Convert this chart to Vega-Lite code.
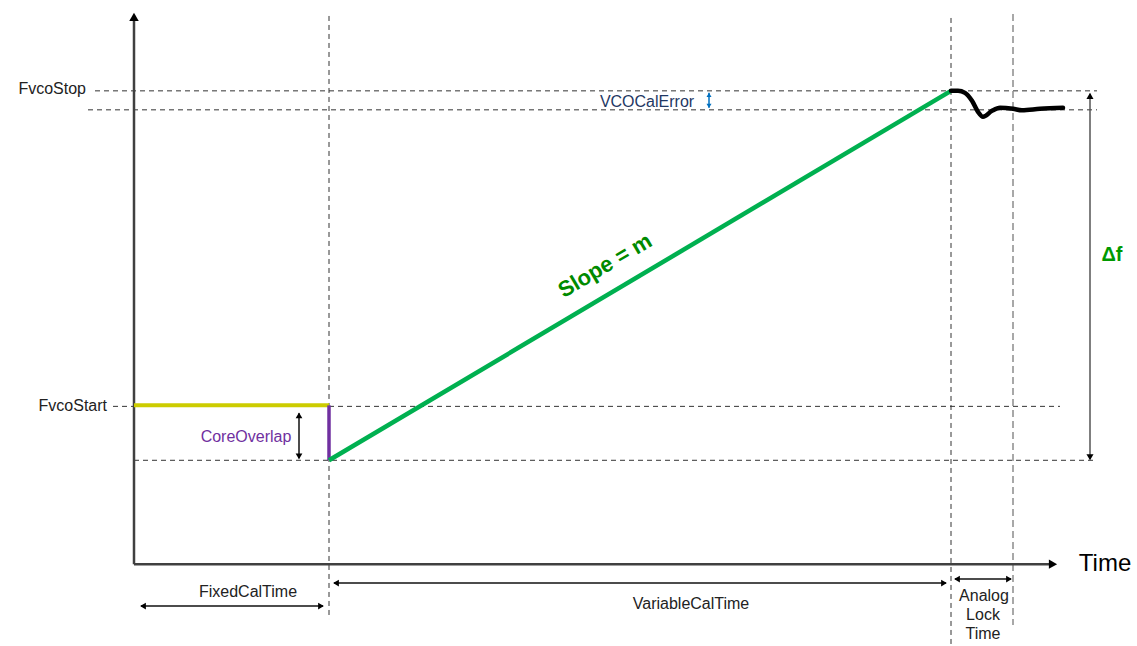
{
  "$schema": "https://vega.github.io/schema/vega-lite/v6.json",
  "width": 1137,
  "height": 646,
  "padding": 0,
  "autosize": {"type": "fit", "contains": "padding"},
  "background": "white",
  "config": {"view": {"stroke": null}, "text": {"font": "Liberation Sans"}},
  "datasets": {
    "segs": [
      {"kind": "dash", "x": 95, "y": 91, "x2": 1097, "y2": 91},
      {"kind": "dash", "x": 88, "y": 110, "x2": 1097, "y2": 110},
      {"kind": "dash", "x": 113, "y": 407, "x2": 1060, "y2": 407},
      {"kind": "dash", "x": 134, "y": 461, "x2": 1097, "y2": 461},
      {"kind": "dash", "x": 329, "y": 16, "x2": 329, "y2": 620},
      {"kind": "dash", "x": 951, "y": 18, "x2": 951, "y2": 646},
      {"kind": "graydash", "x": 1013, "y": 14, "x2": 1013, "y2": 626},
      {"kind": "axis", "x": 134, "y": 18, "x2": 134, "y2": 565},
      {"kind": "axis", "x": 134, "y": 565, "x2": 1052, "y2": 565},
      {"kind": "black", "x": 141, "y": 607, "x2": 323, "y2": 607},
      {"kind": "black", "x": 334, "y": 584, "x2": 946, "y2": 584},
      {"kind": "black", "x": 955, "y": 580, "x2": 1011, "y2": 580},
      {"kind": "black", "x": 299, "y": 414, "x2": 299, "y2": 459},
      {"kind": "gray", "x": 1090, "y": 94, "x2": 1090, "y2": 460},
      {"kind": "blue", "x": 709, "y": 93, "x2": 709, "y2": 108},
      {"kind": "yellow", "x": 134, "y": 406, "x2": 329, "y2": 406},
      {"kind": "purple", "x": 329, "y": 406, "x2": 329, "y2": 461},
      {"kind": "green", "x": 329, "y": 461, "x2": 951, "y2": 91}
    ],
    "heads": [
      {"kind": "axis", "dir": "up", "x": 134, "y": 17},
      {"kind": "axis", "dir": "right", "x": 1053, "y": 565},
      {"kind": "black", "dir": "up", "x": 299, "y": 416},
      {"kind": "black", "dir": "down", "x": 299, "y": 457},
      {"kind": "black", "dir": "left", "x": 143, "y": 607},
      {"kind": "black", "dir": "right", "x": 321, "y": 607},
      {"kind": "black", "dir": "left", "x": 336, "y": 584},
      {"kind": "black", "dir": "right", "x": 944, "y": 584},
      {"kind": "black", "dir": "left", "x": 957, "y": 580},
      {"kind": "black", "dir": "right", "x": 1009, "y": 580},
      {"kind": "gray", "dir": "up", "x": 1090, "y": 96},
      {"kind": "gray", "dir": "down", "x": 1090, "y": 458},
      {"kind": "blue", "dir": "up", "x": 709, "y": 95},
      {"kind": "blue", "dir": "down", "x": 709, "y": 106}
    ],
    "settle": [
      {"x": 951, "y": 91}, {"x": 958, "y": 91}, {"x": 965, "y": 93}, {"x": 972, "y": 101},
      {"x": 978, "y": 112}, {"x": 983, "y": 117}, {"x": 992, "y": 111}, {"x": 1000, "y": 108},
      {"x": 1013, "y": 109}, {"x": 1022, "y": 110.5}, {"x": 1040, "y": 109}, {"x": 1063, "y": 108}
    ],
    "labels": [
      {"kind": "right", "text": "FvcoStop", "x": 86, "y": 89},
      {"kind": "right", "text": "FvcoStart", "x": 107, "y": 407},
      {"kind": "center", "text": "FixedCalTime", "x": 248, "y": 593},
      {"kind": "center", "text": "VariableCalTime", "x": 691, "y": 605},
      {"kind": "center", "text": "Analog", "x": 984, "y": 597},
      {"kind": "center", "text": "Lock", "x": 983, "y": 616},
      {"kind": "center", "text": "Time", "x": 983, "y": 635},
      {"kind": "navy", "text": "VCOCalError", "x": 647, "y": 102},
      {"kind": "purple", "text": "CoreOverlap", "x": 246, "y": 438},
      {"kind": "time", "text": "Time", "x": 1105, "y": 565}
    ]
  },
  "encoding": {
    "x": {"field": "x", "type": "quantitative", "scale": {"domain": [0, 1137], "nice": false, "zero": false}, "axis": null},
    "y": {"field": "y", "type": "quantitative", "scale": {"domain": [0, 646], "nice": false, "zero": false, "reverse": true}, "axis": null}
  },
  "layer": [
    {"data": {"name": "segs"}, "transform": [{"filter": "datum.kind == 'dash'"}],
     "mark": {"type": "rule", "color": "#333333", "strokeWidth": 1, "strokeDash": [5, 4]},
     "encoding": {"x2": {"field": "x2"}, "y2": {"field": "y2"}}},
    {"data": {"name": "segs"}, "transform": [{"filter": "datum.kind == 'graydash'"}],
     "mark": {"type": "rule", "color": "#8c8c8c", "strokeWidth": 1.5, "strokeDash": [7, 4]},
     "encoding": {"x2": {"field": "x2"}, "y2": {"field": "y2"}}},
    {"data": {"name": "segs"}, "transform": [{"filter": "datum.kind == 'axis'"}],
     "mark": {"type": "rule", "color": "#404040", "strokeWidth": 2.5},
     "encoding": {"x2": {"field": "x2"}, "y2": {"field": "y2"}}},
    {"data": {"name": "segs"}, "transform": [{"filter": "datum.kind == 'black'"}],
     "mark": {"type": "rule", "color": "#111111", "strokeWidth": 1.5},
     "encoding": {"x2": {"field": "x2"}, "y2": {"field": "y2"}}},
    {"data": {"name": "segs"}, "transform": [{"filter": "datum.kind == 'gray'"}],
     "mark": {"type": "rule", "color": "#555555", "strokeWidth": 1.5},
     "encoding": {"x2": {"field": "x2"}, "y2": {"field": "y2"}}},
    {"data": {"name": "segs"}, "transform": [{"filter": "datum.kind == 'blue'"}],
     "mark": {"type": "rule", "color": "#0070c0", "strokeWidth": 1.5},
     "encoding": {"x2": {"field": "x2"}, "y2": {"field": "y2"}}},
    {"data": {"name": "segs"}, "transform": [{"filter": "datum.kind == 'yellow'"}],
     "mark": {"type": "rule", "color": "#cccc00", "strokeWidth": 4},
     "encoding": {"x2": {"field": "x2"}, "y2": {"field": "y2"}}},
    {"data": {"name": "segs"}, "transform": [{"filter": "datum.kind == 'purple'"}],
     "mark": {"type": "rule", "color": "#7030a0", "strokeWidth": 3.5},
     "encoding": {"x2": {"field": "x2"}, "y2": {"field": "y2"}}},
    {"data": {"name": "segs"}, "transform": [{"filter": "datum.kind == 'green'"}],
     "mark": {"type": "rule", "color": "#00b050", "strokeWidth": 4.5},
     "encoding": {"x2": {"field": "x2"}, "y2": {"field": "y2"}}},
    {"data": {"name": "settle"},
     "mark": {"type": "line", "color": "#000000", "strokeWidth": 4.5, "interpolate": "monotone", "strokeCap": "round"},
     "encoding": {}},
    {"data": {"name": "heads"}, "transform": [{"filter": "datum.kind == 'axis'"}],
     "mark": {"type": "point", "filled": true, "color": "#000000", "size": 90, "opacity": 1},
     "encoding": {"shape": {"field": "dir", "type": "nominal", "legend": null, "scale": {"domain": ["up", "down", "left", "right"], "range": ["triangle-up", "triangle-down", "triangle-left", "triangle-right"]}}}},
    {"data": {"name": "heads"}, "transform": [{"filter": "datum.kind == 'black'"}],
     "mark": {"type": "point", "filled": true, "color": "#000000", "size": 45, "opacity": 1},
     "encoding": {"shape": {"field": "dir", "type": "nominal", "legend": null, "scale": {"domain": ["up", "down", "left", "right"], "range": ["triangle-up", "triangle-down", "triangle-left", "triangle-right"]}}}},
    {"data": {"name": "heads"}, "transform": [{"filter": "datum.kind == 'gray'"}],
     "mark": {"type": "point", "filled": true, "color": "#000000", "size": 50, "opacity": 1},
     "encoding": {"shape": {"field": "dir", "type": "nominal", "legend": null, "scale": {"domain": ["up", "down", "left", "right"], "range": ["triangle-up", "triangle-down", "triangle-left", "triangle-right"]}}}},
    {"data": {"name": "heads"}, "transform": [{"filter": "datum.kind == 'blue'"}],
     "mark": {"type": "point", "filled": true, "color": "#0070c0", "size": 25, "opacity": 1},
     "encoding": {"shape": {"field": "dir", "type": "nominal", "legend": null, "scale": {"domain": ["up", "down", "left", "right"], "range": ["triangle-up", "triangle-down", "triangle-left", "triangle-right"]}}}},
    {"data": {"name": "labels"}, "transform": [{"filter": "datum.kind == 'right'"}],
     "mark": {"type": "text", "align": "right", "baseline": "middle", "fontSize": 16, "color": "#222222"},
     "encoding": {"text": {"field": "text"}}},
    {"data": {"name": "labels"}, "transform": [{"filter": "datum.kind == 'center'"}],
     "mark": {"type": "text", "align": "center", "baseline": "middle", "fontSize": 16, "color": "#222222"},
     "encoding": {"text": {"field": "text"}}},
    {"data": {"name": "labels"}, "transform": [{"filter": "datum.kind == 'navy'"}],
     "mark": {"type": "text", "align": "center", "baseline": "middle", "fontSize": 16, "color": "#1f3864"},
     "encoding": {"text": {"field": "text"}}},
    {"data": {"name": "labels"}, "transform": [{"filter": "datum.kind == 'purple'"}],
     "mark": {"type": "text", "align": "center", "baseline": "middle", "fontSize": 16, "color": "#7030a0"},
     "encoding": {"text": {"field": "text"}}},
    {"data": {"name": "labels"}, "transform": [{"filter": "datum.kind == 'time'"}],
     "mark": {"type": "text", "align": "center", "baseline": "middle", "fontSize": 24, "color": "#000000"},
     "encoding": {"text": {"field": "text"}}},
    {"data": {"values": [{"text": "Slope = m", "x": 605, "y": 266}]},
     "mark": {"type": "text", "align": "center", "baseline": "middle", "fontSize": 22, "fontWeight": "bold", "color": "#008a00", "angle": -30.7},
     "encoding": {"text": {"field": "text"}}},
    {"data": {"values": [{"text": "Δf", "x": 1112, "y": 255}]},
     "mark": {"type": "text", "align": "center", "baseline": "middle", "fontSize": 20, "fontWeight": "bold", "color": "#009900"},
     "encoding": {"text": {"field": "text"}}}
  ]
}
